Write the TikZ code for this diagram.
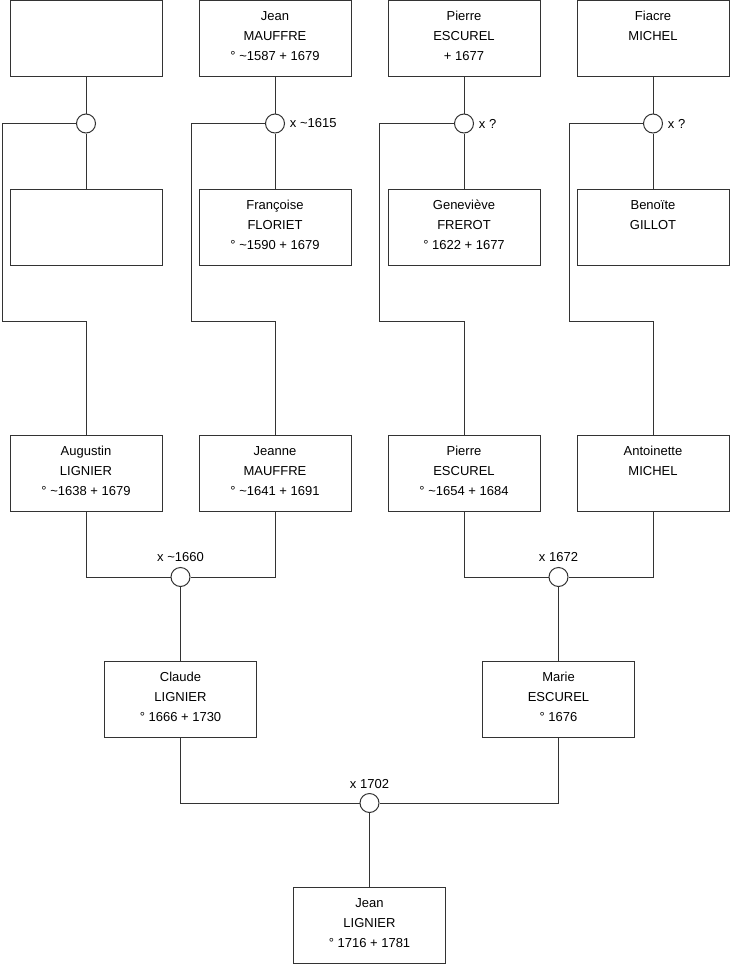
\documentclass[tikz,border=0pt]{standalone}
\usepackage{fontspec}
\setmainfont{Liberation Sans}
\newcommand{\tld}{\textasciitilde}
\definecolor{lc}{HTML}{333333}
\begin{document}
\begin{tikzpicture}[x=0.75pt,y=-0.75pt,
  person/.style={draw=lc, line width=0.75pt, minimum width=114pt, minimum height=57pt, inner sep=0pt, fill=white},
  ptext/.style={anchor=north, inner sep=0pt, align=center, font=\fontsize{9.75}{15}\selectfont},
  wed/.style={circle, draw=lc, line width=0.75pt, minimum size=14.25pt, inner sep=0pt, fill=white},
  wlab/.style={inner sep=0pt, font=\fontsize{9.75}{15}\selectfont},
  link/.style={draw=lc, line width=0.75pt}]
\useasboundingbox (0,0) rectangle (740,975);

% generation 1
\node[person] (p1) at (86,38.5) {};
\node[person] (p2) at (275,38.5) {};
\node[person] (p3) at (464,38.5) {};
\node[person] (p4) at (653,38.5) {};
\node[ptext] (tp2) at ([yshift=-4.9pt]p2.north) {\strut Jean\\MAUFFRE\\° \tld1587 + 1679};
\node[ptext] (tp3) at ([yshift=-4.9pt]p3.north) {\strut Pierre\\ESCUREL\\+ 1677};
\node[ptext] (tp4) at ([yshift=-4.9pt]p4.north) {\strut Fiacre\\MICHEL};

% marriages generation 1
\node[wed] (w1) at (86,123.5) {};
\node[wed] (w2) at (275,123.5) {};
\node[wed] (w3) at (464,123.5) {};
\node[wed] (w4) at (653,123.5) {};
\node[wlab, anchor=west] (lw2) at ([xshift=3.5pt]w2.east) {x \tld1615};
\node[wlab, anchor=west] (lw3) at ([xshift=3.5pt]w3.east) {x ?};
\node[wlab, anchor=west] (lw4) at ([xshift=3.5pt]w4.east) {x ?};

% generation 1 wives
\node[person] (q1) at (86,227) {};
\node[person] (q2) at (275,227) {};
\node[person] (q3) at (464,227) {};
\node[person] (q4) at (653,227) {};
\node[ptext] (tq2) at ([yshift=-4.9pt]q2.north) {\strut Françoise\\FLORIET\\° \tld1590 + 1679};
\node[ptext] (tq3) at ([yshift=-4.9pt]q3.north) {\strut Geneviève\\FREROT\\° 1622 + 1677};
\node[ptext] (tq4) at ([yshift=-4.9pt]q4.north) {\strut Benoïte\\GILLOT};

% generation 2
\node[person] (r1) at (86,473) {};
\node[person] (r2) at (275,473) {};
\node[person] (r3) at (464,473) {};
\node[person] (r4) at (653,473) {};
\node[ptext] (tr1) at ([yshift=-4.9pt]r1.north) {\strut Augustin\\LIGNIER\\° \tld1638 + 1679};
\node[ptext] (tr2) at ([yshift=-4.9pt]r2.north) {\strut Jeanne\\MAUFFRE\\° \tld1641 + 1691};
\node[ptext] (tr3) at ([yshift=-4.9pt]r3.north) {\strut Pierre\\ESCUREL\\° \tld1654 + 1684};
\node[ptext] (tr4) at ([yshift=-4.9pt]r4.north) {\strut Antoinette\\MICHEL};

\coordinate (k1) at (2,321.5);
\coordinate (k2) at (191,321.5);
\coordinate (k3) at (379,321.5);
\coordinate (k4) at (569,321.5);

\foreach \i in {1,2,3,4}{
  \draw[link] (p\i.south) -- (w\i.north);
  \draw[link] (w\i.south) -- (q\i.north);
  \draw[link] (w\i.west) -| (k\i) -| (r\i.north);
}

% marriages generation 2
\node[wed] (v1) at (180.5,577) {};
\node[wed] (v2) at (558.5,577) {};
\node[wlab, anchor=south] (lv1) at ([yshift=3.5pt]v1.north) {x \tld1660};
\node[wlab, anchor=south] (lv2) at ([yshift=3.5pt]v2.north) {x 1672};
\draw[link] (r1.south) |- (v1.west);
\draw[link] (r2.south) |- (v1.east);
\draw[link] (r3.south) |- (v2.west);
\draw[link] (r4.south) |- (v2.east);

% generation 3
\node[person] (s1) at (180.5,699) {};
\node[person] (s2) at (558.5,699) {};
\node[ptext] (ts1) at ([yshift=-4.9pt]s1.north) {\strut Claude\\LIGNIER\\° 1666 + 1730};
\node[ptext] (ts2) at ([yshift=-4.9pt]s2.north) {\strut Marie\\ESCUREL\\° 1676};
\draw[link] (v1.south) -- (s1.north);
\draw[link] (v2.south) -- (s2.north);

% marriage generation 3
\node[wed] (u) at (369.5,803) {};
\node[wlab, anchor=south] (lu) at ([yshift=3.2pt]u.north) {x 1702};
\draw[link] (s1.south) |- (u.west);
\draw[link] (s2.south) |- (u.east);

% generation 4
\node[person] (z) at (369.5,925) {};
\node[ptext] (tz) at ([yshift=-4.9pt]z.north) {\strut Jean\\LIGNIER\\° 1716 + 1781};
\draw[link] (u.south) -- (z.north);
\end{tikzpicture}
\end{document}
